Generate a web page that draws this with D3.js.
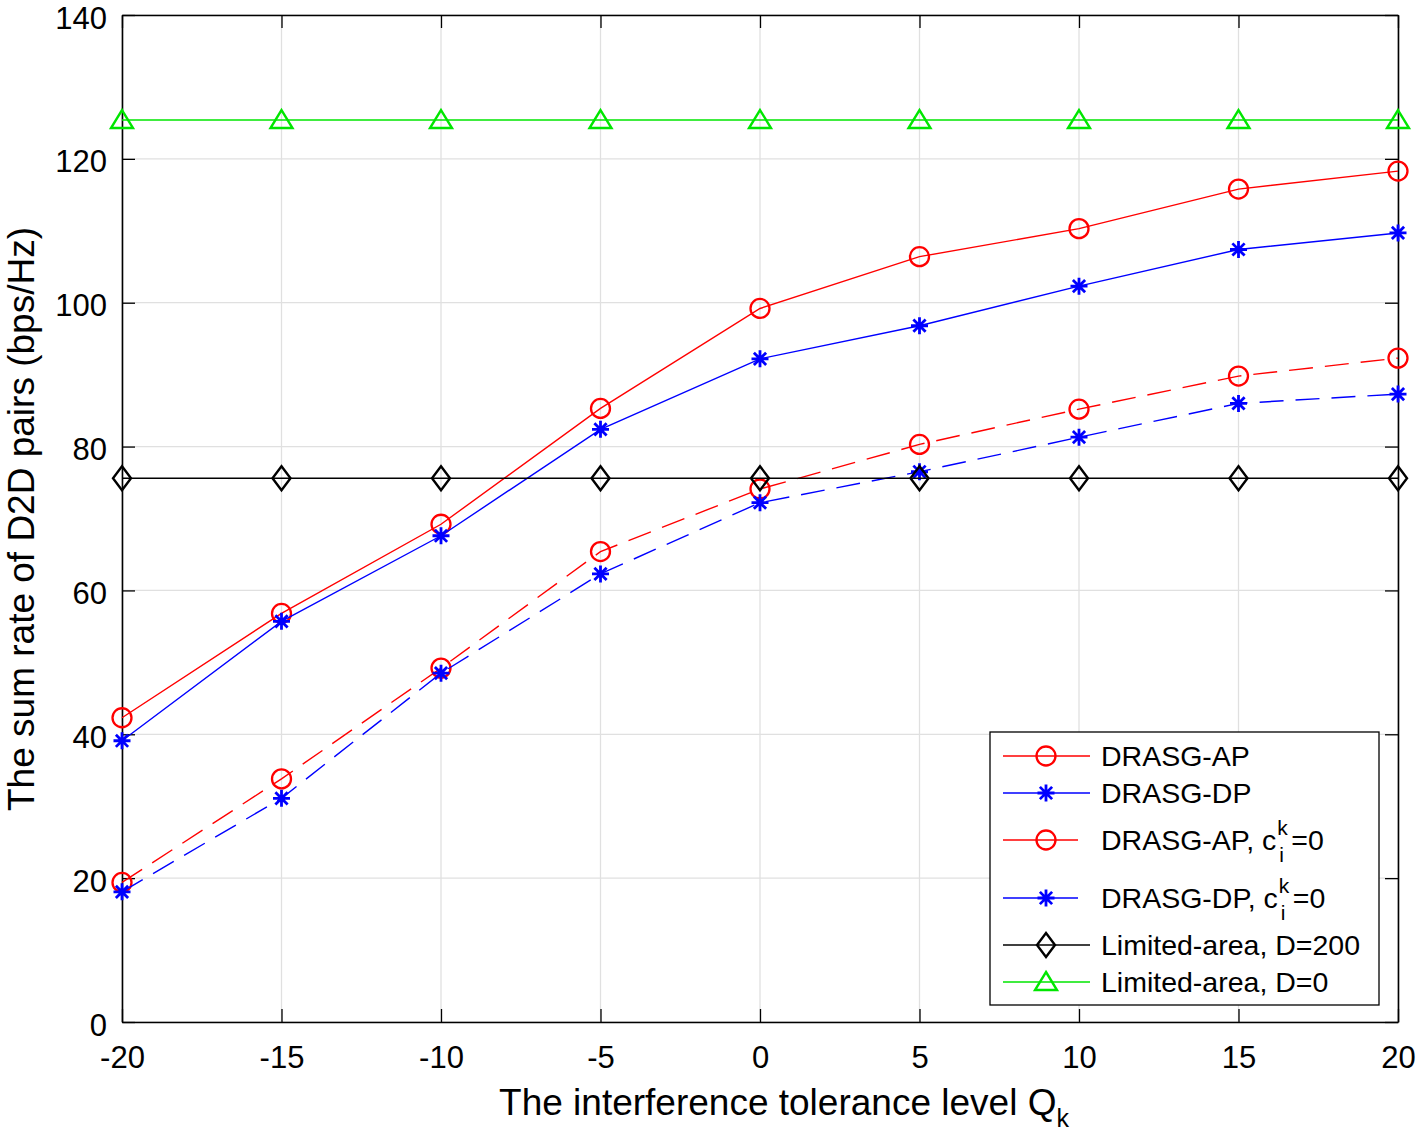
<!DOCTYPE html>
<html><head><meta charset="utf-8">
<script src="https://cdn.jsdelivr.net/npm/d3@7/dist/d3.min.js"></script>
<style>body{margin:0;background:#fff}text{font-family:"Liberation Sans",Arial,Helvetica,sans-serif}</style>
</head><body><svg id="c" width="1424" height="1133"></svg>
<script>
const xValues = [-20, -15, -10, -5, 0, 5, 10, 15, 20];
const apValues = [42.3, 56.8, 69.2, 85.3, 99.2, 106.4, 110.3, 115.8, 118.3];
const dpValues = [39.1, 55.7, 67.6, 82.4, 92.2, 96.8, 102.3, 107.4, 109.7];
const ap0Values = [19.4, 33.8, 49.2, 65.4, 74.1, 80.3, 85.2, 89.8, 92.3];
const dp0Values = [18.1, 31.1, 48.5, 62.3, 72.2, 76.5, 81.3, 86.0, 87.3];
const d200Values = [75.6, 75.6, 75.6, 75.6, 75.6, 75.6, 75.6, 75.6, 75.6];
const d0Values = [125.4, 125.4, 125.4, 125.4, 125.4, 125.4, 125.4, 125.4, 125.4];
const xTicks = [-20, -15, -10, -5, 0, 5, 10, 15, 20];
const yTicks = [0, 20, 40, 60, 80, 100, 120, 140];
const seriesNames = ["DRASG-AP", "DRASG-DP", "DRASG-AP, c", "DRASG-DP, c", "Limited-area, D=200", "Limited-area, D=0"];

const RED = "#ff0000", BLUE = "#0000ff", GREEN = "#00e600", BLACK = "#000";
const series = [
  {name: seriesNames[0], vals: apValues, color: RED, marker: "o", dash: null},
  {name: seriesNames[1], vals: dpValues, color: BLUE, marker: "*", dash: null},
  {name: seriesNames[2], vals: ap0Values, color: RED, marker: "o", dash: "24,12", sup: true},
  {name: seriesNames[3], vals: dp0Values, color: BLUE, marker: "*", dash: "24,12", sup: true},
  {name: seriesNames[4], vals: d200Values, color: BLACK, marker: "d", dash: null},
  {name: seriesNames[5], vals: d0Values, color: GREEN, marker: "^", dash: null}
];

const L = 122, R = 1398, T = 15, B = 1022;
const svg = d3.select("#c");
const x = d3.scaleLinear().domain([-20, 20]).range([L, R]);
const y = d3.scaleLinear().domain([0, 140]).range([B, T]);

// grid
const g = svg.append("g");
g.selectAll(".gx").data(xTicks).join("line").attr("x1", d => x(d)).attr("x2", d => x(d)).attr("y1", T).attr("y2", B).attr("stroke", "#e0e0e0").attr("stroke-width", 1.3);
g.selectAll(".gy").data(yTicks).join("line").attr("y1", d => y(d)).attr("y2", d => y(d)).attr("x1", L).attr("x2", R).attr("stroke", "#e0e0e0").attr("stroke-width", 1.3);

// axes with inner ticks
const tl = 13;
const fmt = d => String(d);
const axB = svg.append("g").attr("transform", `translate(0,${B})`).call(d3.axisBottom(x).tickValues(xTicks).tickSizeInner(-tl).tickSizeOuter(0).tickPadding(24).tickFormat(fmt));
const axT = svg.append("g").attr("transform", `translate(0,${T})`).call(d3.axisTop(x).tickValues(xTicks).tickSizeInner(-tl).tickSizeOuter(0).tickFormat(""));
const axL = svg.append("g").attr("transform", `translate(${L},0)`).call(d3.axisLeft(y).tickValues(yTicks).tickSizeInner(-tl).tickSizeOuter(0).tickPadding(15).tickFormat(fmt));
const axR = svg.append("g").attr("transform", `translate(${R},0)`).call(d3.axisRight(y).tickValues(yTicks).tickSizeInner(-tl).tickSizeOuter(0).tickFormat(""));
[axB, axT, axL, axR].forEach(a => {
  a.select(".domain").attr("stroke", "#000").attr("stroke-width", 1.6);
  a.selectAll(".tick line").attr("stroke", "#000").attr("stroke-width", 1.3);
  a.selectAll("text").attr("font-size", 31).attr("fill", "#000").style("font-family", "Liberation Sans, Arial, sans-serif");
});
axL.selectAll("text").attr("dy", "0.42em");

// markers
function markerPath(type) {
  if (type === "*") {
    const r = 8.5, q = r * 0.72;
    return `M${-r},0L${r},0M0,${-r}L0,${r}M${-q},${-q}L${q},${q}M${-q},${q}L${q},${-q}`;
  }
  if (type === "d") return "M0,-12L9,0L0,12L-9,0Z";
  if (type === "^") return "M0,-10L11,8L-11,8Z";
  return null;
}
function drawMarker(sel, type, color, cx, cy) {
  if (type === "o") {
    sel.append("circle").attr("cx", cx).attr("cy", cy).attr("r", 9.5).attr("fill", "none").attr("stroke", color).attr("stroke-width", 2.3);
  } else {
    sel.append("path").attr("transform", `translate(${cx},${cy})`).attr("d", markerPath(type)).attr("fill", "none").attr("stroke", color).attr("stroke-width", type === "*" ? 2.8 : 2.4).attr("stroke-linejoin", "miter");
  }
}

const line = d3.line().x((d, i) => x(xValues[i])).y(d => y(d));
const plot = svg.append("g");
series.forEach(s => {
  const gg = plot.append("g");
  gg.append("path").attr("d", line(s.vals)).attr("fill", "none").attr("stroke", s.color).attr("stroke-width", 1.4).attr("stroke-dasharray", s.dash);
  s.vals.forEach((v, i) => drawMarker(gg, s.marker, s.color, x(xValues[i]), y(v)));
});

// legend
const lg = svg.append("g");
lg.append("rect").attr("x", 990).attr("y", 732).attr("width", 389).attr("height", 273).attr("fill", "#fff").attr("stroke", "#000").attr("stroke-width", 1.3);
const rowsY = [756, 793, 840, 898, 945, 982];
series.forEach((s, i) => {
  const yy = rowsY[i];
  const x2 = s.dash ? 1078 : 1090;
  lg.append("line").attr("x1", 1003).attr("x2", x2).attr("y1", yy).attr("y2", yy).attr("stroke", s.color).attr("stroke-width", 1.4);
  drawMarker(lg, s.marker, s.color, 1046, yy);
  const t = lg.append("text").attr("x", 1101).attr("y", yy + 10).attr("font-size", 28.5).attr("fill", "#000").text(s.name);
  if (s.sup) {
    const w = t.node().getComputedTextLength();
    lg.append("text").attr("x", 1101 + w + 1).attr("y", yy - 5).attr("font-size", 21).text("k");
    lg.append("text").attr("x", 1101 + w + 3).attr("y", yy + 22).attr("font-size", 21).text("i");
    lg.append("text").attr("x", 1101 + w + 15).attr("y", yy + 10).attr("font-size", 28.5).text("=0");
  }
});

// axis titles
svg.append("text").attr("x", 784).attr("y", 1115).attr("text-anchor", "middle").attr("font-size", 37).attr("fill", "#000")
  .text("The interference tolerance level Q").append("tspan").attr("font-size", 25).attr("dy", 12).text("k");
svg.append("text").attr("transform", "translate(34,519) rotate(-90)").attr("text-anchor", "middle").attr("font-size", 37).attr("fill", "#000")
  .text("The sum rate of D2D pairs (bps/Hz)");
</script></body></html>
